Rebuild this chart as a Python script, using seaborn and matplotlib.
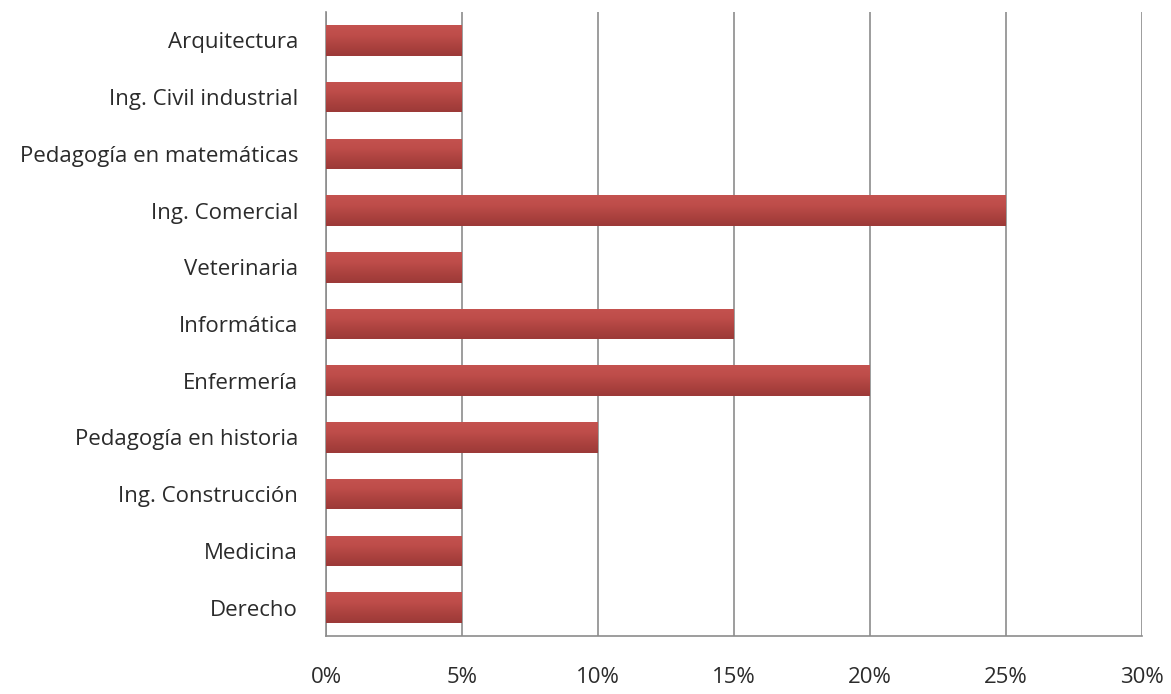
import matplotlib
matplotlib.use("Agg")
import matplotlib.pyplot as plt
import seaborn as sns
import pandas as pd
import numpy as np
from matplotlib.ticker import FuncFormatter
from matplotlib.colors import LinearSegmentedColormap

categories = ["Arquitectura", "Ing. Civil industrial", "Pedagogía en matemáticas",
              "Ing. Comercial", "Veterinaria", "Informática", "Enfermería",
              "Pedagogía en historia", "Ing. Construcción", "Medicina", "Derecho"]
values = [5, 5, 5, 25, 5, 15, 20, 10, 5, 5, 5]
xticks = [0, 5, 10, 15, 20, 25, 30]

df = pd.DataFrame({"carrera": categories, "pct": values})

sns.set_theme(style="white")
plt.rcParams['font.family'] = ['Open Sans', 'DejaVu Sans']

fig = plt.figure(figsize=(11.71, 6.94), dpi=100)
ax = fig.add_axes([0.2784, 0.0836, 0.6968, 0.8991])

sns.barplot(data=df, x="pct", y="carrera", orient="h", color="#BA4A47",
            saturation=1, width=0.54, ax=ax, zorder=3, edgecolor="none")

# vertical gradient on each bar
cmap = LinearSegmentedColormap.from_list("g", ["#C4524F", "#BE4D4A", "#AC423F", "#9C3A38"])
grad = np.linspace(0, 1, 64).reshape(-1, 1)
for p in list(ax.patches):
    x0, y0 = p.get_x(), p.get_y()
    w, h = p.get_width(), p.get_height()
    im = ax.imshow(grad, cmap=cmap, aspect="auto", extent=(x0, x0 + w, y0 + h, y0),
                   zorder=3.5, interpolation="bilinear")
    im.set_clip_path(p)

ax.set_xlim(0, 30)
ax.set_ylim(10.5, -0.5)
ax.set_aspect("auto")
ax.set_xticks(xticks)
ax.xaxis.set_major_formatter(FuncFormatter(lambda v, p: f"{int(v)}%"))
ax.grid(axis="x", color="#8c8c8c", linewidth=1.2, zorder=0)
ax.set_xlabel("")
ax.set_ylabel("")
for s in ["top", "right"]:
    ax.spines[s].set_visible(False)
for s in ["left", "bottom"]:
    ax.spines[s].set_color("#8c8c8c")
    ax.spines[s].set_linewidth(1.2)
ax.tick_params(axis="x", length=0, pad=22, labelsize=16, labelcolor="#2b2b2b")
ax.tick_params(axis="y", length=0, pad=20, labelsize=16, labelcolor="#2b2b2b")

fig.savefig("out.png", dpi=100)
